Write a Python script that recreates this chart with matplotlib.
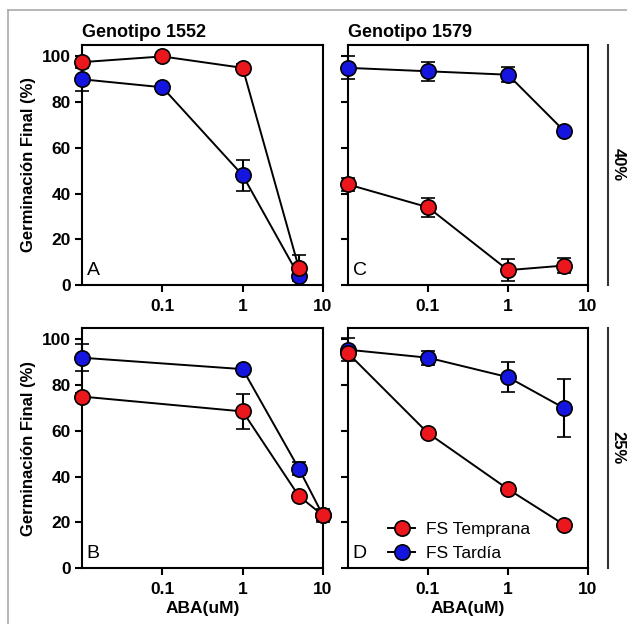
import matplotlib
matplotlib.use("Agg")
import matplotlib.pyplot as plt
from matplotlib.lines import Line2D

plt.rcParams['font.family'] = ['Liberation Sans', 'DejaVu Sans']

# ABA concentrations (uM); control plotted at the left edge (0.01)
x_main = [0.01, 0.1, 1, 5]
x_b = [0.01, 1, 5, 10]

# Panel A - Genotipo 1552, 40%
a_temp = [97.5, 100, 95, 7.5]
a_temp_err = [1.5, 1.5, 1.5, 5.7]
a_tard = [90, 86.5, 48, 4]
a_tard_err = [5, 1.5, 6.7, 2]

# Panel C - Genotipo 1579, 40%
c_temp = [44, 34, 6.5, 8.5]
c_temp_err = [3, 4.2, 4.9, 3.4]
c_tard = [95, 93.5, 92, 67.5]
c_tard_err = [5, 4.2, 3.3, 1.5]

# Panel B - Genotipo 1552, 25%
b_temp = [75, 68.5, 31.5, 23]
b_temp_err = [1.5, 7.5, 1.5, 3]
b_tard = [92, 87, 43.5, 23]
b_tard_err = [6, 1.5, 3, 2]

# Panel D - Genotipo 1579, 25%
d_temp = [94, 59, 34.5, 19]
d_temp_err = [1.5, 1.5, 1.5, 1.5]
d_tard = [95.5, 92, 83.5, 70]
d_tard_err = [5, 3, 6.7, 12.6]

series_labels = ["FS Temprana", "FS Tardía"]
titles = ["Genotipo 1552", "Genotipo 1579"]
panel_letters = ["A", "C", "B", "D"]
moisture_labels = ["40%", "25%"]
xticks = [0.1, 1, 10]
xtick_labels = ["0.1", "1", "10"]
yticks = [0, 20, 40, 60, 80, 100]

RED = "#ec171c"
BLUE = "#1515e0"

W, H = 627, 624
fig = plt.figure(figsize=(W / 100, H / 100), dpi=100)


def px_axes(left, top, right, bottom):
    return fig.add_axes([left / W, 1 - bottom / H, (right - left) / W, (bottom - top) / H])


panels = [
    (px_axes(82, 45, 323, 285), x_main, a_temp, a_temp_err, a_tard, a_tard_err),
    (px_axes(348, 45, 588, 285), x_main, c_temp, c_temp_err, c_tard, c_tard_err),
    (px_axes(82, 328, 323, 568), x_b, b_temp, b_temp_err, b_tard, b_tard_err),
    (px_axes(348, 328, 588, 568), x_main, d_temp, d_temp_err, d_tard, d_tard_err),
]

for i, (ax, xs, yt, et, yd, ed) in enumerate(panels):
    for ys, es, col, lab in [(yd, ed, BLUE, series_labels[1]), (yt, et, RED, series_labels[0])]:
        ax.errorbar(xs, ys, yerr=es, fmt='-o', color='k', lw=1.4,
                    mfc=col, mec='k', mew=1.2, ms=11,
                    capsize=5, elinewidth=1.5, capthick=1.5, clip_on=False,
                    label=lab, zorder=3)
    ax.set_xscale('log')
    ax.set_xlim(0.01, 10)
    ax.set_ylim(0, 105)
    ax.set_xticks(xticks)
    ax.set_xticklabels(xtick_labels)
    ax.minorticks_off()
    ax.set_yticks(yticks)
    ax.tick_params(direction='out', length=5, width=1.5, labelsize=12.5, pad=3)
    ax.tick_params(axis='x', pad=5)
    for lbl in ax.get_xticklabels() + ax.get_yticklabels():
        lbl.set_fontweight('bold')
    for sp in ax.spines.values():
        sp.set_linewidth(1.5)
    if i in (1, 3):
        ax.set_yticklabels([])
    else:
        ax.set_ylabel("Germinación Final (%)", fontsize=12, fontweight='bold', labelpad=4)
    if i < 2:
        ax.set_title(titles[i], fontsize=13, fontweight='bold', loc='left', pad=6)
    else:
        ax.set_xlabel("ABA(uM)", fontsize=12.5, fontweight='bold', labelpad=3)
    ax.text(0.02, 0.025, panel_letters[i], transform=ax.transAxes,
            fontsize=14, ha='left', va='bottom')

# Legend in panel D
axd = panels[3][0]
handles = [Line2D([], [], color='k', lw=1.4, marker='o', ms=11, mfc=c, mec='k', mew=1.2)
           for c in (RED, BLUE)]
axd.legend(handles, series_labels, loc='lower left', bbox_to_anchor=(0.1, -0.035),
           frameon=False, fontsize=12.5, handlelength=1.6, handletextpad=0.6,
           labelspacing=0.5)

# Moisture brackets on the right
for (top, bottom), lab in zip([(45, 285), (328, 568)], moisture_labels):
    fig.add_artist(Line2D([608 / W, 608 / W], [1 - top / H, 1 - bottom / H],
                          color='#333333', lw=1.5))
    fig.text(618 / W, 1 - (top + bottom) / 2 / H, lab, rotation=-90,
             ha='center', va='center', fontsize=12, fontweight='bold')

# Outer frame
fig.add_artist(Line2D([8 / W, 1], [1 - 10 / H, 1 - 10 / H], color='#aaaaaa', lw=1.2))
fig.add_artist(Line2D([8 / W, 8 / W], [1 - 10 / H, 0], color='#aaaaaa', lw=1.2))

fig.savefig("out.png", dpi=100)
